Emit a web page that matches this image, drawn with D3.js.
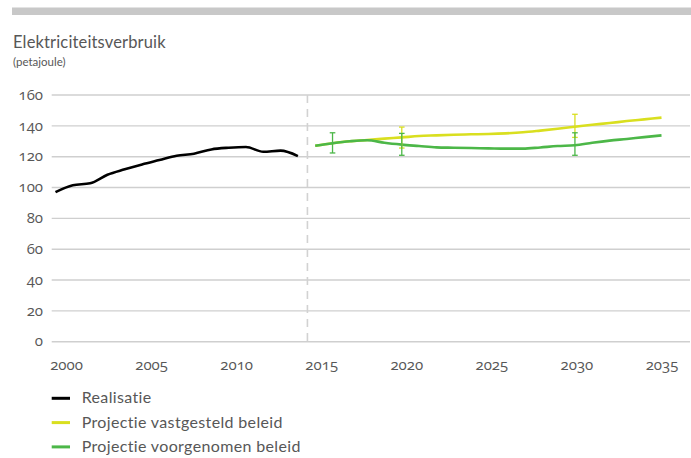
<!DOCTYPE html>
<html>
<head>
<meta charset="utf-8">
<title>Elektriciteitsverbruik</title>
<style>
body { margin: 0; background: #fff; }
text {
  font-family: Lato, "Open Sans", sans-serif;
  fill: #575757;
}
.num text, text.num {
  font-family: "Open Sans", "Noto Sans", sans-serif;
  font-variant-numeric: oldstyle-nums;
  font-feature-settings: "onum" 1;
}
.grid line { stroke: #cfcfcf; stroke-width: 1.4px; }
path.series { fill: none; stroke-width: 2.6px; stroke-linejoin: round; stroke-linecap: butt; }
</style>
</head>
<body>
<script src="https://cdn.jsdelivr.net/npm/d3@7"></script>
<script>

// realisatie 2000-2014 (PJ)
var realYears = d3.range(2000, 2015);
var realisatie = [97, 101.5, 102.7, 108.3, 111.8, 115, 117.8, 120.6, 121.9, 124.7, 125.8, 126.3, 123.2, 123.9, 120.4];

// projecties 2015-2035
var projYears = d3.range(2015, 2036);
var vastgesteld = [127.1, 128.7, 130, 130.8, 131.7, 132.5, 133.4, 133.8, 134.2, 134.5, 134.7, 135.1, 135.8, 136.9, 138.1, 139.4, 140.7, 141.8, 143.1, 144.2, 145.3];
var voorgenomen = [127.1, 128.7, 130, 130.7, 129, 127.8, 126.9, 126, 125.8, 125.6, 125.4, 125.2, 125.2, 126, 126.9, 127.4, 129, 130.4, 131.5, 132.7, 133.8];

// onzekerheidsbanden
var errVastgesteld = [
  {year: 2020, low: 125.6, high: 139.2},
  {year: 2030, low: 132.5, high: 147.5}
];
var errVoorgenomen = [
  {year: 2016, low: 122.4, high: 135.5},
  {year: 2020, low: 120.9, high: 135.1},
  {year: 2030, low: 120.9, high: 135.5}
];

var yTicks = [0, 20, 40, 60, 80, 100, 120, 140, 160];
var xTicks = [2000, 2005, 2010, 2015, 2020, 2025, 2030, 2035];
var splitYear = 2014.55;

var legendItems = [
  {label: "Realisatie", color: "#000000"},
  {label: "Projectie vastgesteld beleid", color: "#d9df1f"},
  {label: "Projectie voorgenomen beleid", color: "#4cb748"}
];

var width = 691, height = 458;

var svg = d3.select("body").append("svg")
    .attr("width", width)
    .attr("height", height);

// top bar
svg.append("rect")
    .attr("x", 12).attr("y", 7.5)
    .attr("width", width - 12).attr("height", 7.5)
    .attr("fill", "#c8c8c8");

svg.append("text")
    .attr("x", 13).attr("y", 48)
    .style("font-size", "16.5px")
    .style("letter-spacing", "0.15px")
    .text("Elektriciteitsverbruik");

svg.append("text")
    .attr("x", 13).attr("y", 66)
    .style("font-size", "11.5px")
    .text("(petajoule)");

var y = d3.scaleLinear().domain([0, 160]).range([341.7, 95]);
var x = d3.scaleLinear().domain([2000, 2035]).range([55.5, 661.5]);
var xLabel = d3.scaleLinear().domain([2000, 2035]).range([66, 661.5]);

// gridlines
var grid = svg.append("g").attr("class", "grid");
grid.selectAll("line")
    .data(yTicks)
    .enter().append("line")
    .attr("x1", 51.7).attr("x2", 690)
    .attr("y1", function(d) { return y(d); })
    .attr("y2", function(d) { return y(d); });

// y axis labels
var yAxis = d3.axisLeft(y).tickValues(yTicks).tickSize(0).tickPadding(0);
var gy = svg.append("g")
    .attr("class", "num")
    .attr("transform", "translate(43,0)")
    .call(yAxis);
gy.select(".domain").remove();
gy.selectAll("text")
    .attr("fill", "#575757")
    .style("font-size", "15px")
    .attr("dy", "0.28em");

// x axis labels
var xAxis = d3.axisBottom(xLabel).tickValues(xTicks).tickFormat(d3.format("d")).tickSize(0).tickPadding(0);
var gx = svg.append("g")
    .attr("class", "num")
    .attr("transform", "translate(0,357)")
    .call(xAxis);
gx.select(".domain").remove();
gx.selectAll("text")
    .attr("fill", "#575757")
    .style("font-size", "15px")
    .attr("dy", "0.85em");

// dashed split
svg.append("line")
    .attr("x1", x(splitYear)).attr("x2", x(splitYear))
    .attr("y1", y(160)).attr("y2", y(0))
    .attr("stroke", "#d2d2d2")
    .attr("stroke-width", 1.6)
    .attr("stroke-dasharray", "8,6");

var line = d3.line()
    .x(function(d) { return x(d[0]); })
    .y(function(d) { return y(d[1]); })
    .curve(d3.curveMonotoneX);

function errorBars(data, color) {
  var g = svg.append("g").attr("stroke", color).attr("stroke-width", 1.3);
  data.forEach(function(d) {
    g.append("line")
        .attr("x1", x(d.year)).attr("x2", x(d.year))
        .attr("y1", y(d.low)).attr("y2", y(d.high));
    [d.low, d.high].forEach(function(v) {
      g.append("line")
          .attr("x1", x(d.year) - 2.8).attr("x2", x(d.year) + 2.8)
          .attr("y1", y(v)).attr("y2", y(v));
    });
  });
}

svg.append("path")
    .attr("class", "series")
    .attr("stroke", legendItems[1].color)
    .attr("d", line(d3.zip(projYears, vastgesteld)));

svg.append("path")
    .attr("class", "series")
    .attr("stroke", legendItems[2].color)
    .attr("d", line(d3.zip(projYears, voorgenomen)));

svg.append("path")
    .attr("class", "series")
    .attr("stroke", legendItems[0].color)
    .attr("d", line(d3.zip(realYears, realisatie)));

errorBars(errVastgesteld, legendItems[1].color);
errorBars(errVoorgenomen, legendItems[2].color);

// legend
var legend = svg.append("g")
    .selectAll("g")
    .data(legendItems)
    .enter().append("g")
    .attr("transform", function(d, i) { return "translate(0," + (398.3 + i * 24.3) + ")"; });

legend.append("line")
    .attr("x1", 51.7).attr("x2", 70)
    .attr("stroke", function(d) { return d.color; })
    .attr("stroke-width", 3);

legend.append("text")
    .attr("x", 81.7).attr("y", 5)
    .style("font-size", "16px")
    .style("letter-spacing", "0.35px")
    .text(function(d) { return d.label; });

</script>
</body>
</html>
